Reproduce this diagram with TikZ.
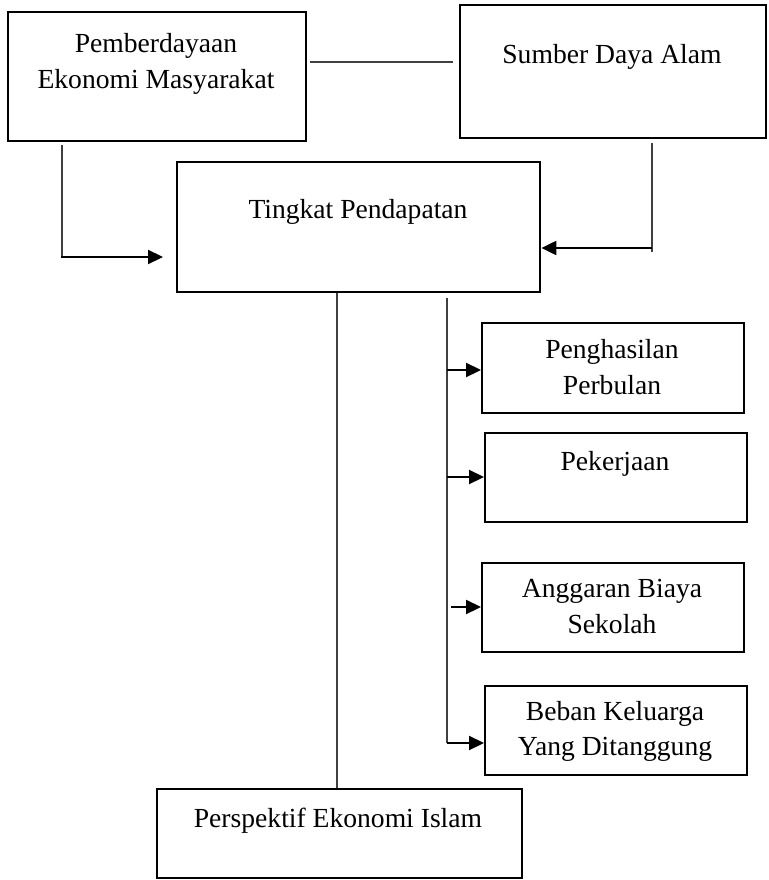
\documentclass[tikz,border=0pt]{standalone}
\usepackage{fontspec}
\setmainfont{Liberation Serif}
\usetikzlibrary{arrows.meta}
\tikzset{
  boxnode/.style={draw=black, line width=2.4pt, rectangle, anchor=north west, inner sep=0pt},
  txt/.style={anchor=base, inner sep=0pt, font=\fontsize{27.6}{36}\selectfont, text=black},
  thin/.style={draw=black!75, line width=1.2pt},
  arr/.style={draw=black, line width=2.2pt, -{Triangle[length=15pt,width=14pt]}},
}
\begin{document}
\begin{tikzpicture}[x=1pt,y=-1pt]
\useasboundingbox[fill=white] (0,0) rectangle (768,880);
% boxes
\node[boxnode, minimum width=298pt, minimum height=129pt] (pem) at (7,11) {};
\node[boxnode, minimum width=306pt, minimum height=133pt] (sda) at (459,4) {};
\node[boxnode, minimum width=363pt, minimum height=130pt] (tng) at (176,161) {};
\node[boxnode, minimum width=262pt, minimum height=90pt] (pen) at (481,322) {};
\node[boxnode, minimum width=262pt, minimum height=89pt] (pek) at (484,432) {};
\node[boxnode, minimum width=262pt, minimum height=89pt] (ang) at (481,562) {};
\node[boxnode, minimum width=262pt, minimum height=89pt] (beb) at (484,685) {};
\node[boxnode, minimum width=365pt, minimum height=89pt] (per) at (156,788) {};
% texts
\node[txt] (pemA) at (156,53) {Pemberdayaan};
\node[txt] (pemB) at (156,89) {Ekonomi Masyarakat};
\node[txt] (sdaT) at (612,64) {Sumber Daya Alam};
\node[txt] (tngT) at (358,218) {Tingkat Pendapatan};
\node[txt] (penA) at (612,358) {Penghasilan};
\node[txt] (penB) at (612,394) {Perbulan};
\node[txt] (pekT) at (615,470) {Pekerjaan};
\node[txt] (angA) at (612,597) {Anggaran Biaya};
\node[txt] (angB) at (612,633) {Sekolah};
\node[txt] (bebA) at (615,720) {Beban Keluarga};
\node[txt] (bebB) at (615,755) {Yang Ditanggung};
\node[txt] (perT) at (338,827) {Perspektif Ekonomi Islam};
% connector coordinates
\coordinate (h1) at (310,62);
\coordinate (h2) at (453,62);
\coordinate (l1) at (62,145);
\coordinate (l2) at (62,257);
\coordinate (l3) at (163,257);
\coordinate (r1) at (652,143);
\coordinate (r2) at (652,252);
\coordinate (r3) at (652,248);
\coordinate (v1) at (447,298);
\coordinate (v2) at (447,743);
\coordinate (a1) at (447,370);
\coordinate (a2) at (447,477);
\coordinate (a3) at (451,607);
\coordinate (a4) at (447,743);
% connectors
\draw[thin] (h1) -- (h2);
\draw[thin] (l1) -- (l2);
\draw[arr] ([xshift=-0.6pt]l2) -- (l3);
\draw[thin] (r1) -- (r2);
\draw[arr] (r3) -- (tng.east |- r3);
\draw[thin] (tng.south -| 337,0) -- (per.north -| 337,0);
\draw[thin] (v1) -- (v2);
\draw[arr] (a1) -- (pen.west |- a1);
\draw[arr] (a2) -- (pek.west |- a2);
\draw[arr] (a3) -- (ang.west |- a3);
\draw[arr] (a4) -- (beb.west |- a4);
\end{tikzpicture}
\end{document}
